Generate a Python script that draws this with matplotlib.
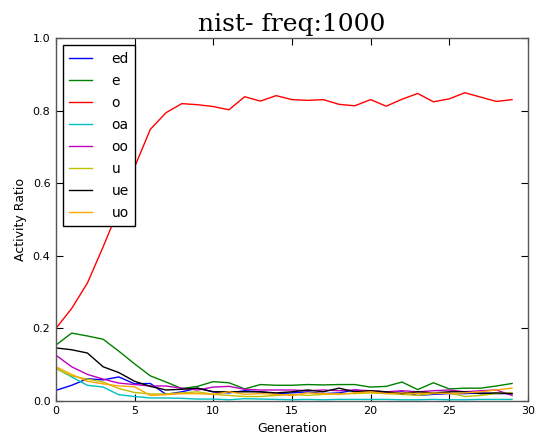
import matplotlib
matplotlib.use("Agg")
import matplotlib.pyplot as plt

generations = list(range(30))

series_names = ["ed", "e", "o", "oa", "oo", "u", "ue", "uo"]

ed = [0.029, 0.043, 0.061, 0.058, 0.066, 0.047, 0.048, 0.018, 0.025, 0.035,
      0.025, 0.022, 0.028, 0.025, 0.020, 0.022, 0.025, 0.020, 0.022, 0.030,
      0.025, 0.022, 0.025, 0.015, 0.018, 0.020, 0.020, 0.022, 0.020, 0.020]
e = [0.154, 0.187, 0.179, 0.170, 0.137, 0.102, 0.069, 0.052, 0.034, 0.040,
     0.053, 0.050, 0.033, 0.045, 0.043, 0.043, 0.045, 0.044, 0.045, 0.045,
     0.038, 0.040, 0.052, 0.031, 0.050, 0.033, 0.035, 0.035, 0.041, 0.048]
o = [0.200, 0.255, 0.325, 0.425, 0.530, 0.645, 0.749, 0.795, 0.820, 0.817,
     0.812, 0.803, 0.839, 0.827, 0.842, 0.831, 0.829, 0.831, 0.818, 0.814,
     0.831, 0.813, 0.832, 0.848, 0.825, 0.833, 0.850, 0.838, 0.826, 0.831]
oa = [0.090, 0.066, 0.043, 0.038, 0.017, 0.012, 0.008, 0.008, 0.007, 0.005,
      0.005, 0.003, 0.006, 0.005, 0.004, 0.003, 0.004, 0.003, 0.004, 0.004,
      0.004, 0.004, 0.003, 0.003, 0.004, 0.003, 0.003, 0.004, 0.004, 0.004]
oo = [0.126, 0.094, 0.073, 0.060, 0.049, 0.045, 0.041, 0.041, 0.035, 0.030,
      0.038, 0.040, 0.032, 0.030, 0.030, 0.030, 0.028, 0.030, 0.028, 0.030,
      0.028, 0.025, 0.028, 0.025, 0.028, 0.030, 0.025, 0.028, 0.030, 0.015]
u = [0.089, 0.069, 0.060, 0.052, 0.034, 0.023, 0.019, 0.019, 0.022, 0.025,
     0.018, 0.015, 0.012, 0.012, 0.015, 0.018, 0.015, 0.018, 0.020, 0.020,
     0.022, 0.020, 0.018, 0.015, 0.020, 0.022, 0.012, 0.015, 0.020, 0.022]
ue = [0.146, 0.141, 0.132, 0.094, 0.078, 0.054, 0.040, 0.030, 0.032, 0.035,
      0.025, 0.025, 0.025, 0.025, 0.022, 0.025, 0.030, 0.025, 0.035, 0.025,
      0.028, 0.025, 0.020, 0.025, 0.022, 0.025, 0.025, 0.020, 0.022, 0.020]
uo = [0.094, 0.073, 0.054, 0.047, 0.041, 0.039, 0.015, 0.017, 0.020, 0.020,
      0.018, 0.025, 0.018, 0.020, 0.018, 0.015, 0.022, 0.020, 0.018, 0.022,
      0.025, 0.020, 0.022, 0.020, 0.022, 0.020, 0.022, 0.025, 0.030, 0.035]

series_values = [ed, e, o, oa, oo, u, ue, uo]
series_colors = ["#0000ff", "#008000", "#ff0000", "#00bfbf",
                 "#bf00bf", "#bfbf00", "#000000", "orange"]

x_ticks = [0, 5, 10, 15, 20, 25, 30]
y_ticks = [0.0, 0.2, 0.4, 0.6, 0.8, 1.0]

fig = plt.figure(figsize=(5.38, 4.41), dpi=100)
ax = fig.add_axes([0.104, 0.091, 0.877, 0.822])

for name, vals, col in zip(series_names, series_values, series_colors):
    ax.plot(generations, vals, color=col, linewidth=1.0, label=name)

ax.set_xlim(0, 30)
ax.set_ylim(0, 1.0)
ax.set_xticks(x_ticks)
ax.set_yticks(y_ticks)
ax.set_yticklabels([f"{t:.1f}" for t in y_ticks])
ax.tick_params(direction="in", top=True, right=True, length=5,
               labelsize=8, pad=4)
for sp in ax.spines.values():
    sp.set_color("#555555")
    sp.set_linewidth(1.0)

ax.set_xlabel("Generation", fontsize=9)
ax.set_ylabel("Activity Ratio", fontsize=9)
ax.set_title("nist- freq:1000", fontsize=18, family="DejaVu Serif", pad=5)

leg = ax.legend(loc="upper left", fontsize=10, fancybox=False,
                handlelength=1.65, handletextpad=1.4, labelspacing=0.58,
                borderpad=0.45, borderaxespad=0.5, framealpha=1.0)
leg.get_frame().set_edgecolor("black")
leg.get_frame().set_linewidth(1.0)

fig.savefig("out.png", dpi=100, facecolor="white")
